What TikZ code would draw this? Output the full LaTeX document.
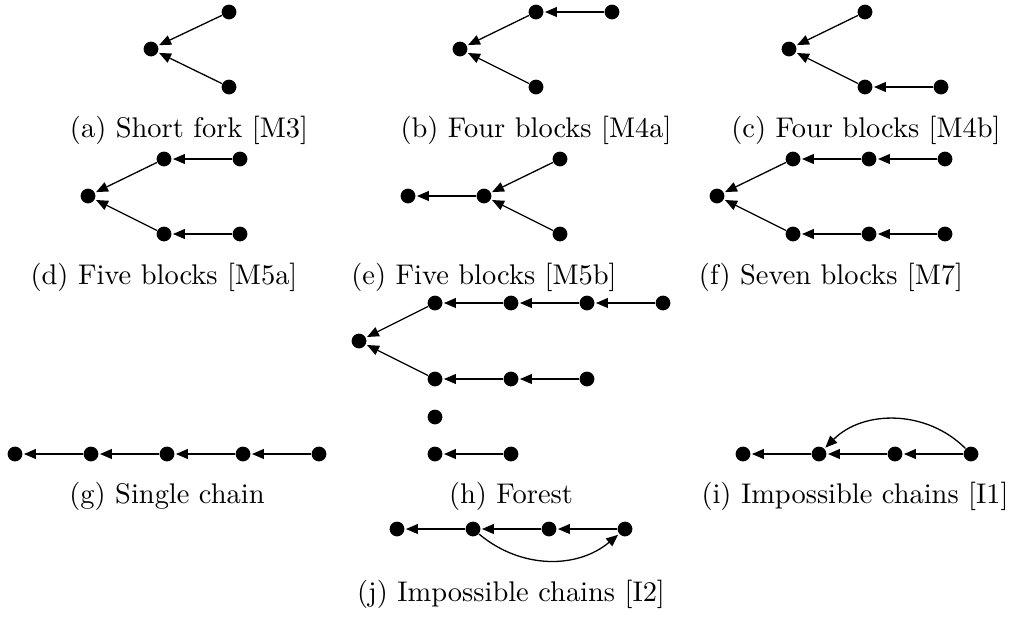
\documentclass[tikz,border=0pt]{standalone}
\usetikzlibrary{arrows.meta}
\begin{document}
\begin{tikzpicture}[x=0.385pt,y=-0.385pt,
  dot/.style={circle,fill=black,inner sep=0pt,minimum size=5.7pt},
  arr/.style={-{Triangle[length=4.6pt,width=3.8pt]},line width=0.5pt,shorten >=0.4pt},
  captext/.style={anchor=base,inner sep=0pt,font=\fontsize{10.95}{13.6}\selectfont}]
\useasboundingbox (0,0) rectangle (1014,621);
% (a)
\node[dot] (a0) at (151,49) {};
\node[dot] (a1) at (229,12) {};
\node[dot] (a2) at (229,87) {};
\draw[arr] (a1) -- (a0);
\draw[arr] (a2) -- (a0);
\node[captext] (ca) at (189,137) {(a) Short fork [M3]};
% (b)
\node[dot] (b0) at (460,49) {};
\node[dot] (b1) at (536,12) {};
\node[dot] (b2) at (612,12) {};
\node[dot] (b3) at (536,87) {};
\draw[arr] (b1) -- (b0);
\draw[arr] (b3) -- (b0);
\draw[arr] (b2) -- (b1);
\node[captext] (cb) at (536,137) {(b) Four blocks [M4a]};
% (c)
\node[dot] (c0) at (789,49) {};
\node[dot] (c1) at (865,12) {};
\node[dot] (c2) at (865,87) {};
\node[dot] (c3) at (941,87) {};
\draw[arr] (c1) -- (c0);
\draw[arr] (c2) -- (c0);
\draw[arr] (c3) -- (c2);
\node[captext] (cc) at (866,137) {(c) Four blocks [M4b]};
% (d)
\node[dot] (d0) at (88,196) {};
\node[dot] (d1) at (164,159) {};
\node[dot] (d2) at (240,159) {};
\node[dot] (d3) at (164,234) {};
\node[dot] (d4) at (240,234) {};
\draw[arr] (d1) -- (d0);
\draw[arr] (d3) -- (d0);
\draw[arr] (d2) -- (d1);
\draw[arr] (d4) -- (d3);
\node[captext] (cd) at (164,284) {(d) Five blocks [M5a]};
% (e)
\node[dot] (e0) at (408,196) {};
\node[dot] (e1) at (484,196) {};
\node[dot] (e2) at (560,159) {};
\node[dot] (e3) at (560,234) {};
\draw[arr] (e1) -- (e0);
\draw[arr] (e2) -- (e1);
\draw[arr] (e3) -- (e1);
\node[captext] (ce) at (484,284) {(e) Five blocks [M5b]};
% (f)
\node[dot] (f0) at (717,196) {};
\node[dot] (f1) at (793,159) {};
\node[dot] (f2) at (869,159) {};
\node[dot] (f3) at (945,159) {};
\node[dot] (f4) at (793,234) {};
\node[dot] (f5) at (869,234) {};
\node[dot] (f6) at (945,234) {};
\draw[arr] (f1) -- (f0);
\draw[arr] (f4) -- (f0);
\draw[arr] (f2) -- (f1);
\draw[arr] (f3) -- (f2);
\draw[arr] (f5) -- (f4);
\draw[arr] (f6) -- (f5);
\node[captext] (cf) at (831,284) {(f) Seven blocks [M7]};
% (h)
\node[dot] (h0) at (359,341) {};
\node[dot] (h1) at (435,303) {};
\node[dot] (h2) at (511,303) {};
\node[dot] (h3) at (587,303) {};
\node[dot] (h4) at (663,303) {};
\node[dot] (h5) at (435,379) {};
\node[dot] (h6) at (511,379) {};
\node[dot] (h7) at (587,379) {};
\node[dot] (h8) at (435,417) {};
\node[dot] (h9) at (435,454) {};
\node[dot] (h10) at (511,454) {};
\draw[arr] (h1) -- (h0);
\draw[arr] (h5) -- (h0);
\draw[arr] (h2) -- (h1);
\draw[arr] (h3) -- (h2);
\draw[arr] (h4) -- (h3);
\draw[arr] (h6) -- (h5);
\draw[arr] (h7) -- (h6);
\draw[arr] (h10) -- (h9);
\node[captext] (ch) at (511,503) {(h) Forest};
% (g)
\node[dot] (g1) at (15,454) {};
\node[dot] (g2) at (91,454) {};
\node[dot] (g3) at (167,454) {};
\node[dot] (g4) at (243,454) {};
\node[dot] (g5) at (319,454) {};
\draw[arr] (g2) -- (g1);
\draw[arr] (g3) -- (g2);
\draw[arr] (g4) -- (g3);
\draw[arr] (g5) -- (g4);
\node[captext] (cg) at (167,503) {(g) Single chain};
% (i)
\node[dot] (i1) at (743,454) {};
\node[dot] (i2) at (819,454) {};
\node[dot] (i3) at (895,454) {};
\node[dot] (i4) at (971,454) {};
\draw[arr] (i2) -- (i1);
\draw[arr] (i3) -- (i2);
\draw[arr] (i4) -- (i3);
\draw[arr] (i4) to[bend right=45] (i2);
\node[captext] (ci) at (855,503) {(i) Impossible chains [I1]};
% (j)
\node[dot] (j1) at (397,529) {};
\node[dot] (j2) at (473,529) {};
\node[dot] (j3) at (549,529) {};
\node[dot] (j4) at (625,529) {};
\draw[arr] (j2) -- (j1);
\draw[arr] (j3) -- (j2);
\draw[arr] (j4) -- (j3);
\draw[arr] (j2) to[bend right=40] (j4);
\node[captext] (cj) at (511,601) {(j) Impossible chains [I2]};
\end{tikzpicture}
\end{document}
